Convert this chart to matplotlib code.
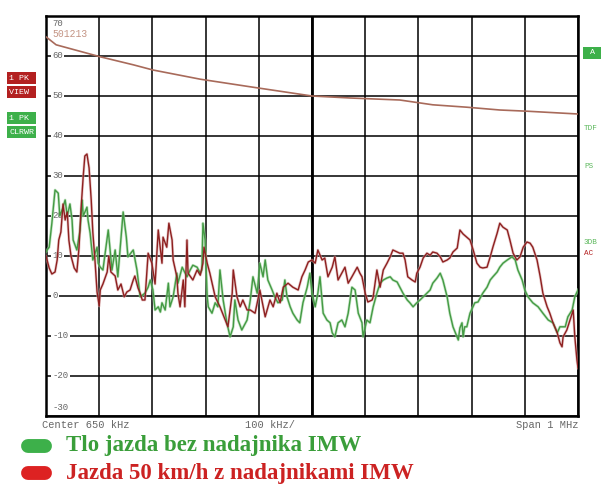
import matplotlib.pyplot as plt
from matplotlib.lines import Line2D

# trace readings: frequency (kHz) and level (dBuV)
red_f = [150, 156, 161, 167, 171, 174, 178, 182, 186, 190, 193, 197, 203, 208, 212, 216,
         220, 223, 227, 231, 235, 238, 242, 246, 250, 252, 257, 265, 268, 272, 280, 285,
         291, 297, 302, 308, 314, 317, 323, 327, 331, 336, 342, 349, 355, 361, 368, 370,
         377, 381, 387, 389, 396, 398, 402, 408, 411, 415, 417, 426, 434, 440, 445, 447,
         453, 458, 468, 477, 487, 492, 500, 502, 509, 515, 520, 528, 534, 543, 552, 562,
         571, 577, 584, 590, 596, 605, 614, 624, 631, 637, 643, 650, 656, 661, 669, 674,
         680, 688, 693, 699, 706, 712, 718, 725, 735, 740, 744, 750, 755, 763, 765, 772,
         778, 784, 791, 797, 802, 810, 815, 821, 825, 830, 838, 844, 847, 853, 859, 866,
         872, 877, 885, 891, 896, 904, 909, 915, 923, 928, 934, 941, 947, 953, 960, 966,
         971, 979, 985, 990, 998, 1003, 1009, 1017, 1022, 1028, 1035, 1041, 1047, 1054, 1060, 1065,
         1073, 1079, 1084, 1092, 1097, 1103, 1111, 1116, 1120, 1122, 1129, 1135, 1141, 1144, 1148, 1150]
red_db = [10, 7, 5.5, 6, 9, 14, 16, 23, 19, 21, 14, 10, 7, 6, 12, 22,
          30, 35, 35.5, 32, 24, 16, 9, 1, -2.5, 1.5, 3, 6, 10, 6, 5, 1.5,
          3, -0.2, 1, 1.5, 4, 5, 2, 0.7, -1, -1, 10.7, 8.2, 3, 16.5, 8.2, 14.7,
          12.2, 18.2, 14, 9, 4.8, 0.7, -2.7, 4, -2.7, 14, 5.7, 4, 6.5, 5.2, 8.2, 12.2,
          8.2, 5.7, -0.2, -2.7, -6, -7.7, 0.7, 6.5, -0.2, -2.7, -1, -3.5, -3.5, -4.3, 1.5, -5.2,
          -1, -2.7, 0.7, -1.7, 2.2, 3.2, 2.2, 1.5, 4.8, 6.5, 8.5, 9, 8.2, 11.5, 9, 9.5,
          4.8, 7.2, 9.8, 4, 5.7, 7.2, 3.2, 4.8, 7.2, 5.7, 4.8, 0.7, -1.5, -1, -0.2, 6.5,
          2.2, 6.5, 8.2, 9.8, 11.5, 11, 10.7, 10.7, 9, 4.8, 4, 3.5, 5.7, 7.2, 9.5, 10.7,
          10.2, 11, 10.7, 9.8, 8.5, 9, 9.5, 11, 12, 16.5, 15.5, 14.7, 14, 11.5, 8.2, 7.2,
          7, 7.2, 9.8, 12.2, 15.7, 18.2, 17.2, 16.5, 14, 10.7, 9, 9.8, 12.2, 13.5, 13.2, 12.2,
          9, 4.8, 0.7, -2.7, -4.3, -6.7, -9.2, -11.7, -12.7, -10.2, -8.5, -6, -3.5, -10.2, -16, -18]

green_f = [150, 152, 156, 161, 167, 173, 176, 182, 186, 190, 195, 199, 201, 208, 214, 218,
           220, 227, 229, 233, 238, 246, 248, 252, 257, 267, 274, 280, 285, 295, 301, 304,
           314, 321, 327, 336, 342, 346, 351, 355, 361, 365, 368, 374, 380, 383, 389, 396,
           398, 406, 415, 421, 426, 434, 440, 443, 445, 449, 453, 455, 462, 468, 473, 477,
           483, 490, 496, 502, 505, 511, 518, 528, 534, 539, 547, 552, 558, 562, 567, 575,
           580, 586, 594, 599, 603, 609, 614, 622, 627, 633, 641, 646, 650, 656, 661, 665,
           671, 678, 684, 688, 693, 699, 706, 712, 718, 725, 731, 737, 744, 746, 753, 759,
           765, 772, 778, 784, 791, 797, 802, 810, 815, 821, 829, 834, 840, 847, 853, 859,
           866, 872, 877, 885, 891, 896, 904, 909, 915, 925, 928, 932, 934, 937, 941, 947,
           956, 962, 971, 979, 985, 990, 998, 1003, 1009, 1017, 1026, 1032, 1037, 1045, 1050, 1056,
           1065, 1075, 1084, 1094, 1103, 1111, 1116, 1126, 1131, 1139, 1144, 1150]
green_db = [11, 11.5, 12.2, 18.2, 26.5, 25.7, 20, 22.2, 24, 20, 23, 19, 14, 11.5, 16.5, 24,
            20, 22.2, 19, 15.7, 9, 12.2, 8.2, 7.2, 6.5, 16.5, 6.5, 11.5, 4.8, 21, 14.7, 9.8,
            11.5, 6.5, -0.2, 0.7, 2.2, 4, 1.5, -3.5, -2.7, -4, -1.7, -3.5, 3.2, -2.7, -0.2, 5.7,
            3.2, 7.2, 4.8, 6.5, 7.7, 7.2, 5.7, 6.5, 18.2, 14, -0.2, -2.7, -4.3, -1.7, -2.7, 6.5,
            -1, -6.7, -10.2, -7.7, -1, -6, -8.5, -6, -1, 4.8, 0.7, 8.2, 4.8, 9, 4, 1.5,
            -0.2, -1.7, -1, 4, -0.2, -2.7, -4.3, -6, -6.7, -1.7, 2.2, 5.7, 0.7, -2.7, 0.7, 4.8,
            -4.3, -6, -6.7, -9.2, -10.2, -6.7, -6, -7.7, -4.3, 2.2, 1.5, -4.3, -6.7, -10.2, -6, -6.7,
            -2.7, 0.7, 3.2, 4, 4.5, 4.8, 4, 3.5, 2.2, 0.7, -1, -1.7, -2.7, -1.7, -1, -0.2,
            0.7, 1.5, 3.2, 4.5, 5.7, 4, -0.2, -4.3, -7.7, -11, -8, -6.7, -10.2, -7.7, -7.7, -4.3,
            -1.7, -1.5, 0.7, 2.2, 4, 4.8, 6, 7.2, 8.2, 9, 9.8, 9, 6.5, 4, 1.5, -0.2,
            -1.7, -2.7, -4.3, -6, -6.7, -9.2, -7.7, -7.7, -5.2, -3.5, -0.2, 1.5]

# limit line
lim_f = [150, 169, 252, 314, 351, 440, 534, 650, 722, 815, 877, 941, 1003, 1054, 1150]
lim_db = [64.8, 62.8, 59.8, 57.8, 56.5, 54.2, 52.3, 50.0, 49.5, 49.0, 47.8, 47.2, 46.5, 46.2, 45.5]

y_levels = [70, 60, 50, 40, 30, 20, 10, 0, -10, -20, -30]

W, H = 601, 487
fig = plt.figure(figsize=(W / 100, H / 100), dpi=100)
ax = fig.add_axes([46 / W, 1 - 416 / H, 532 / W, 400 / H])
ax.set_xlim(150, 1150)
ax.set_ylim(-30, 70)
ax.set_xticks(range(150, 1151, 100))
ax.set_yticks(range(-30, 71, 10))
ax.tick_params(length=0, labelbottom=False, labelleft=False)
ax.grid(True, color='black', lw=1.1, zorder=1)
ax.axvline(650, color='black', lw=2.0, zorder=1)
for s in ax.spines.values():
    s.set_linewidth(1.8)

mono = 'Liberation Mono'
ytr = ax.get_yaxis_transform()
for v in y_levels:
    yy = v
    if v == 70:
        yy = 68
    elif v == -30:
        yy = -28
    ax.text(0.012, yy, str(v), transform=ytr, fontsize=6.5, family=mono, color='#666666',
            va='center', ha='left', zorder=2,
            bbox=dict(facecolor='white', edgecolor='none', pad=0.8))

ax.plot(lim_f, lim_db, color='#a86a5a', lw=1.2, zorder=3)
ax.text(0.013, 64.3, '501213', transform=ytr, fontsize=7, family=mono, color='#c49484',
        va='bottom', ha='left', zorder=3)

ax.plot(green_f, green_db, color='#9fd49f', lw=2.0, alpha=0.6, zorder=3)
ax.plot(red_f, red_db, color='#d8a8a8', lw=2.0, alpha=0.6, zorder=3)
ax.plot(green_f, green_db, color='#449a44', lw=1.0, zorder=4)
ax.plot(red_f, red_db, color='#8e2020', lw=1.0, zorder=5)


def ftext(px, py, s, **kw):
    fig.text(px / W, 1 - py / H, s, **kw)


# footer of the analyzer screen
ftext(42, 425, 'Center 650 kHz', fontsize=7.5, family=mono, color='#666666', va='center')
ftext(245, 425, '100 kHz/', fontsize=7.5, family=mono, color='#666666', va='center')
ftext(578, 425, 'Span 1 MHz', fontsize=7.5, family=mono, color='#666666', va='center', ha='right')

# trace badges
box_red = dict(facecolor='#b32020', edgecolor='none', pad=1.5)
box_grn = dict(facecolor='#3db04a', edgecolor='none', pad=1.5)
ftext(9, 78, '1 PK ', fontsize=6, family=mono, color='white', va='center', bbox=box_red)
ftext(9, 92, 'VIEW ', fontsize=6, family=mono, color='white', va='center', bbox=box_red)
ftext(9, 118, '1 PK ', fontsize=6, family=mono, color='white', va='center', bbox=box_grn)
ftext(9, 132, 'CLRWR', fontsize=6, family=mono, color='white', va='center', bbox=box_grn)
ftext(585, 53, ' A ', fontsize=6, family=mono, color='white', va='center', bbox=box_grn)
ftext(584, 128, 'TDF', fontsize=5.5, family=mono, color='#5cb85c', va='center')
ftext(584, 166, 'PS', fontsize=5.5, family=mono, color='#5cb85c', va='center')
ftext(584, 243, '3DB', fontsize=5.5, family=mono, color='#5cb85c', va='center')
ftext(584, 254, 'AC', fontsize=5.5, family=mono, color='#b32020', va='center')

# legend
for py, c in [(446, '#3db04a'), (473, '#dd2222')]:
    fig.add_artist(Line2D([28 / W, 45 / W], [1 - py / H] * 2, lw=10, color=c,
                          solid_capstyle='round', transform=fig.transFigure))
ftext(66, 446, 'Tlo jazda bez nadajnika IMW', fontsize=16.5, family='Liberation Serif',
      weight='bold', color='#3a9e3a', va='center')
ftext(66, 473, 'Jazda 50 km/h z nadajnikami IMW', fontsize=16.5, family='Liberation Serif',
      weight='bold', color='#cc2222', va='center')

fig.savefig('out.png', dpi=100)
